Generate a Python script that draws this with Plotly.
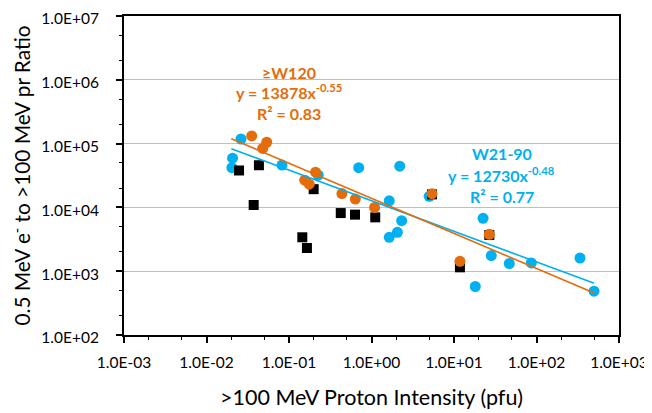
import plotly.graph_objects as go
import numpy as np

# ---- data ----
blue_x = [0.0262, 0.0207, 0.0203, 0.0822, 0.226, 0.70, 2.2, 1.64, 2.32, 2.06, 1.64,
          5.0, 22.5, 28.3, 46.8, 86.5, 18.1, 337, 498]
blue_y = [1.18e5, 5.9e4, 4.2e4, 4.6e4, 3.2e4, 4.2e4, 4.42e4, 1.27e4, 6.2e3, 4.07e3, 3.4e3,
          1.49e4, 6.73e3, 1.76e3, 1.32e3, 1.35e3, 576, 1.61e3, 487]

black_x = [0.0248, 0.0432, 0.0373, 0.145, 0.165, 0.199, 0.424, 0.631, 1.11, 5.41, 26.8, 11.8]
black_y = [3.79e4, 4.58e4, 1.09e4, 3.4e3, 2.31e3, 1.93e4, 8.15e3, 7.7e3, 6.98e3, 1.6e4, 3.7e3, 1.15e3]

orange_x = [0.0353, 0.048, 0.0537, 0.155, 0.176, 0.21, 0.438, 0.637, 1.09, 5.41, 26.8, 11.8]
orange_y = [1.32e5, 8.4e4, 1.05e5, 2.67e4, 2.31e4, 3.56e4, 1.65e4, 1.35e4, 1.0e4, 1.64e4, 3.79e3, 1.43e3]

# power-law trendlines y = a * x^b
orange_fit = (13878, -0.55)
blue_fit = (12730, -0.48)
fit_range = [0.02, 500]

x_tickvals = [1e-3, 1e-2, 1e-1, 1e0, 1e1, 1e2, 1e3]
x_ticktext = ["1.0E-03", "1.0E-02", "1.0E-01", "1.0E+00", "1.0E+01", "1.0E+02", "1.0E+03"]
y_tickvals = [1e2, 1e3, 1e4, 1e5, 1e6, 1e7]
y_ticktext = ["1.0E+02", "1.0E+03", "1.0E+04", "1.0E+05", "1.0E+06", "1.0E+07"]

BLUE = "#00B0F0"
ORANGE = "#E46C0A"
FONT = "Lato"

fx = np.array(fit_range)

fig = go.Figure()
fig.add_trace(go.Scatter(x=blue_x, y=blue_y, mode="markers",
                         marker=dict(symbol="circle", size=11, color=BLUE), name="W21-90"))
fig.add_trace(go.Scatter(x=black_x, y=black_y, mode="markers",
                         marker=dict(symbol="square", size=10, color="black"), name="other"))
fig.add_trace(go.Scatter(x=orange_x, y=orange_y, mode="markers",
                         marker=dict(symbol="circle", size=11, color=ORANGE), name=">=W120"))
fig.add_trace(go.Scatter(x=fx, y=blue_fit[0] * fx ** blue_fit[1], mode="lines",
                         line=dict(color=BLUE, width=1.6), name="fit blue"))
fig.add_trace(go.Scatter(x=fx, y=orange_fit[0] * fx ** orange_fit[1], mode="lines",
                         line=dict(color=ORANGE, width=1.6), name="fit orange"))

axis_common = dict(
    type="log", showline=True, linewidth=2, linecolor="black", mirror=True,
    ticks="outside", ticklen=6, tickwidth=1.5, tickcolor="black",
    tickfont=dict(family=FONT, size=15.5, color="black"),
    minor=dict(ticks="outside", ticklen=3, tickwidth=1, tickcolor="black", showgrid=False),
    zeroline=False, ticklabeloverflow="allow", automargin=False,
)

fig.update_xaxes(**axis_common, range=[-3, 3], tickvals=x_tickvals, ticktext=x_ticktext,
                 showgrid=False, ticklabelstandoff=6)
fig.update_yaxes(**axis_common, range=[2, 7], tickvals=y_tickvals, ticktext=y_ticktext,
                 showgrid=True, gridcolor="#BFBFBF", gridwidth=1, ticklabelstandoff=14,
                 ticklabelshift=3)

ann_font_o = dict(family=FONT, size=16, color=ORANGE, weight="bold")
ann_font_b = dict(family=FONT, size=16, color=BLUE, weight="bold")
annots = [
    dict(x=-1.0, y=6.12, text="≥W120", font=ann_font_o),
    dict(x=-1.0, y=5.82, text="y = 13878x<sup>-0.55</sup>", font=ann_font_o),
    dict(x=-1.0, y=5.474, text="R² = 0.83", font=ann_font_o),
    dict(x=1.58, y=4.848, text="W21-90", font=ann_font_b),
    dict(x=1.58, y=4.52, text="y = 12730x<sup>-0.48</sup>", font=ann_font_b),
    dict(x=1.58, y=4.175, text="R² = 0.77", font=ann_font_b),
]
for a in annots:
    fig.add_annotation(xref="x", yref="y", showarrow=False, xanchor="center",
                       yanchor="middle", **a)

fig.add_annotation(xref="paper", yref="paper", x=0.5, y=-0.195, showarrow=False,
                   text=">100 MeV Proton Intensity (pfu)", xanchor="center", yanchor="middle",
                   font=dict(family=FONT, size=21.5, color="black"))
fig.add_annotation(xref="paper", yref="paper", x=-0.208, y=0.5, showarrow=False,
                   text="0.5 MeV e<sup>-</sup> to >100 MeV pr Ratio", textangle=-90,
                   xanchor="center", yanchor="middle",
                   font=dict(family=FONT, size=20.8, color="black"))

# page body has an 8px default margin; figure is sized/offset to compensate
fig.update_layout(
    width=644, height=405,
    margin=dict(l=116, r=33, t=8, b=78),
    paper_bgcolor="white", plot_bgcolor="white",
    showlegend=False,
)

fig.write_html("out.html")
